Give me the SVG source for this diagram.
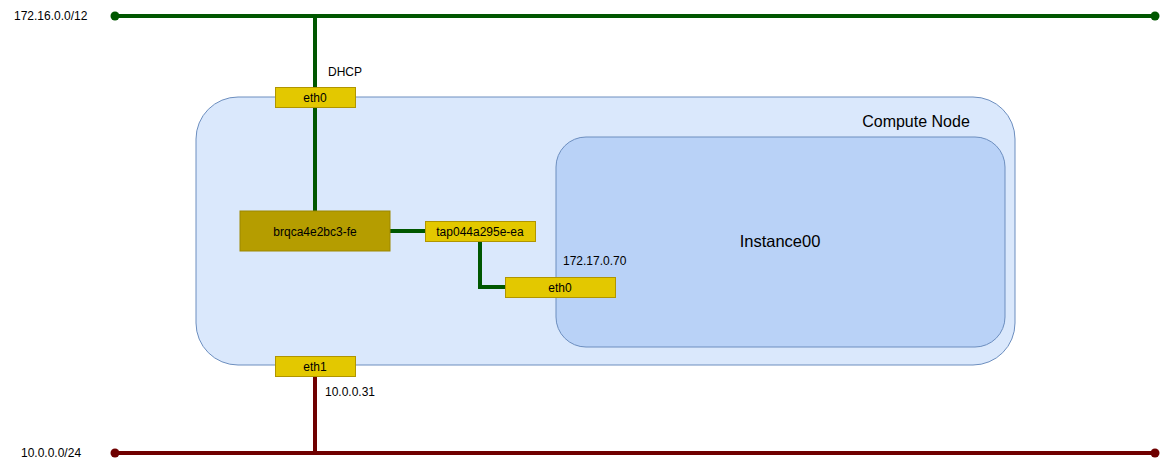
<svg xmlns="http://www.w3.org/2000/svg" width="1166" height="468" viewBox="0 0 1166 468">
<style>
text{font-family:"Liberation Sans",Arial,sans-serif;fill:#000}
.s{font-size:12px}
.c{text-anchor:middle}
.port{fill:#e3c800;stroke:#b09500;stroke-width:1}
.g{stroke:#005700;stroke-width:4;fill:none}
.r{stroke:#6f0000;stroke-width:4;fill:none}
</style>
<rect width="1166" height="468" fill="#fff"/>
<g id="compute-node">
<rect x="196" y="97" width="819" height="268" rx="42" fill="#dae8fc" stroke="#6c8ebf"/>
<text x="916" y="127" font-size="16" class="c">Compute Node</text>
</g>
<g id="instance00">
<rect x="556" y="137" width="449" height="210" rx="30" fill="#b9d2f7" stroke="#6c8ebf"/>
<text x="780" y="247" font-size="16.5" class="c">Instance00</text>
</g>
<g id="connectors">
<line class="g" x1="115" y1="16" x2="1155" y2="16"/>
<circle cx="115" cy="16" r="4.5" fill="#005700"/>
<circle cx="1155" cy="16" r="4.5" fill="#005700"/>
<line class="g" x1="315" y1="16" x2="315" y2="211"/>
<line class="g" x1="390" y1="231" x2="425" y2="231"/>
<polyline class="g" points="480,241 480,287 505,287"/>
<line class="r" x1="115" y1="453" x2="1155" y2="453"/>
<circle cx="115" cy="453" r="4.5" fill="#6f0000"/>
<circle cx="1155" cy="453" r="4.5" fill="#6f0000"/>
<line class="r" x1="315" y1="376" x2="315" y2="453"/>
</g>
<g id="net-172"><text x="14" y="20" class="s">172.16.0.0/12</text></g>
<g id="net-10"><text x="21" y="457" class="s">10.0.0.0/24</text></g>
<g id="eth0-host">
<rect class="port" x="275.5" y="87.5" width="80" height="20"/>
<text x="315" y="102" class="s c">eth0</text>
<text x="328" y="76" class="s">DHCP</text>
</g>
<g id="bridge">
<rect x="240" y="211" width="150" height="40" fill="#b59d00" stroke="#9c8700"/>
<text x="315" y="236" class="s c">brqca4e2bc3-fe</text>
</g>
<g id="tap">
<rect class="port" x="425.5" y="221.5" width="110" height="20"/>
<text x="480" y="236" class="s c">tap044a295e-ea</text>
</g>
<g id="eth0-instance">
<rect class="port" x="505.5" y="277.5" width="110" height="20"/>
<text x="560" y="292" class="s c">eth0</text>
<text x="563" y="265" class="s">172.17.0.70</text>
</g>
<g id="eth1-host">
<rect class="port" x="275.5" y="356.5" width="80" height="20"/>
<text x="315" y="371" class="s c">eth1</text>
<text x="325" y="396" class="s">10.0.0.31</text>
</g>
</svg>
